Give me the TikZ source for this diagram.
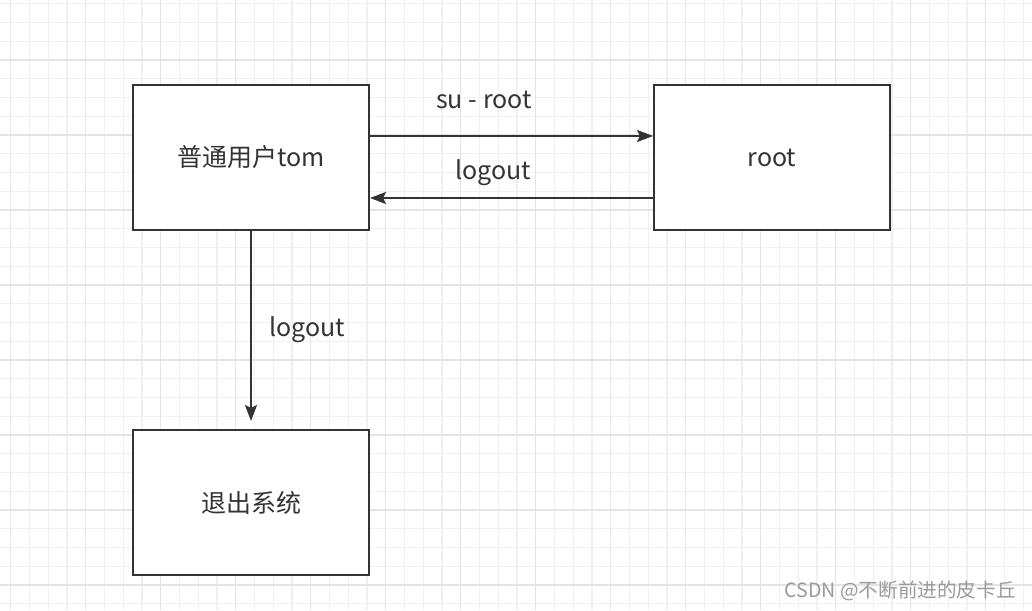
\documentclass[tikz,border=0pt]{standalone}
\usepackage{fontspec}
\setmainfont{Noto Sans CJK SC}
\usepackage{tikz}
\usetikzlibrary{arrows,arrows.meta,positioning}

\definecolor{ink}{HTML}{333333}
\definecolor{gridminor}{HTML}{F0F0F0}
\definecolor{gridmajor}{HTML}{E4E4E4}
\definecolor{mark}{HTML}{9A9A9A}

\begin{document}
\begin{tikzpicture}[
        x=0.5pt, y=-0.5pt,
        font=\fontsize{12.5pt}{15pt}\selectfont,
        shorten > = 0pt,
        node distance=99pt]

        \tikzstyle{box}=[
            draw = ink,
            text = ink,
            fill = white,
            line width = 1pt,
            minimum width = 118pt,
            minimum height = 72.5pt
        ]
        \tikzstyle{flow}=[
            draw = ink,
            line width = 1pt,
            -{Stealth[length=8pt, width=6pt, inset=1.5pt]}
        ]
        \tikzset{lbl/.style={text=ink, inner sep=0pt}}

        % background and grid
        \fill[white] (0,0) rectangle (1032,610);
        \useasboundingbox (0,0) rectangle (1032,610);
        \foreach \i in {0,...,54}
            \draw[gridminor, line width=0.6pt] (10.7+18.75*\i,0) -- (10.7+18.75*\i,610);
        \foreach \i in {0,...,32}
            \draw[gridminor, line width=0.6pt] (0,3.75+18.75*\i) -- (1032,3.75+18.75*\i);
        \foreach \i in {0,...,13}
            \draw[gridmajor, line width=0.6pt] (10.7+75*\i,0) -- (10.7+75*\i,610);
        \foreach \i in {0,...,8}
            \draw[gridmajor, line width=0.6pt] (0,60+75*\i) -- (1032,60+75*\i);

        \node[box] (tom) at (251,157.5) {普通用户tom};
        \node[box] (root) [right=141.5pt of tom] {root};
        \node[box] (exit) [below=of tom] {退出系统};

        \draw[flow] ([yshift=10.75pt]tom.east) -- ([yshift=10.75pt]root.west)
            node[lbl, midway, xshift=-13.75pt, yshift=18pt] {su - root};
        \draw[flow] ([yshift=-20.25pt]root.west) -- ([yshift=-20.25pt]tom.east)
            node[lbl, midway, xshift=-9.25pt, yshift=12.5pt] {logout};
        \draw[flow, shorten >=4pt] (tom.south) -- (exit.north)
            node[lbl, midway, xshift=28pt] {logout};

        \node[text=mark, anchor=east, inner sep=0pt, font=\fontsize{9.8pt}{11pt}\selectfont] (sign) at (1016,591) {CSDN @不断前进的皮卡丘};
\end{tikzpicture}
\end{document}
